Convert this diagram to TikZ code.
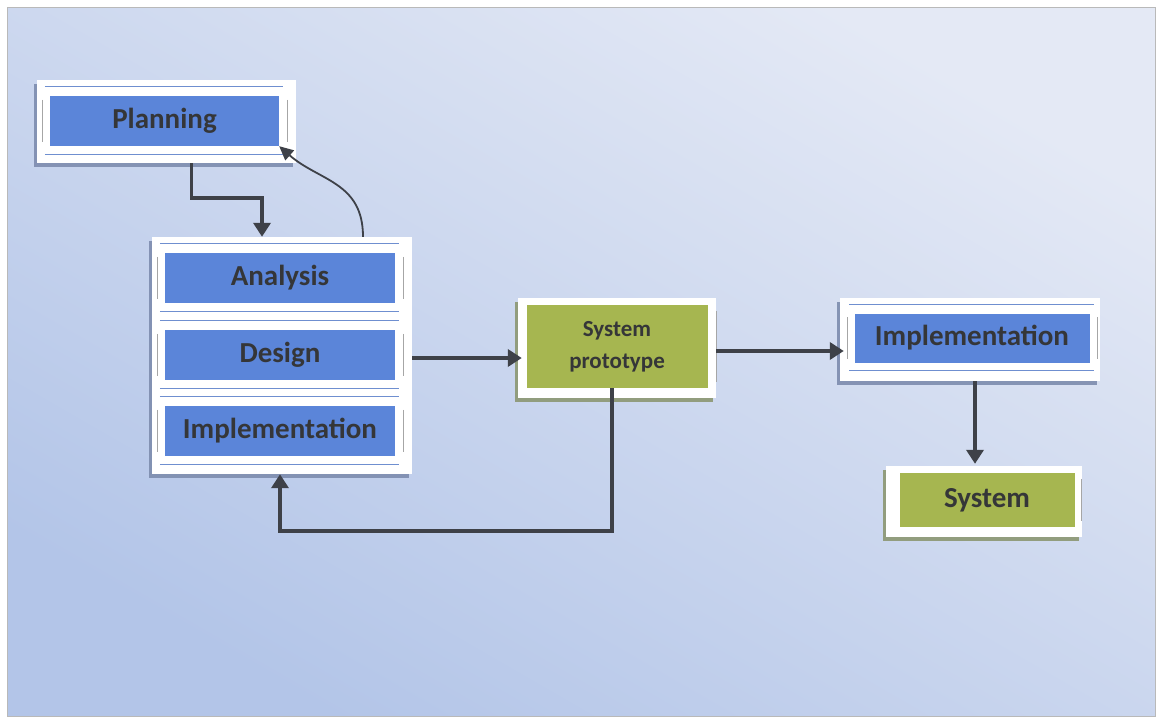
\documentclass[tikz,border=0pt]{standalone}
\usepackage{fontspec}
\setmainfont{Carlito}
\usetikzlibrary{arrows.meta,fit,shadows,calc}
\definecolor{bgtop}{HTML}{E4E9F5}
\definecolor{bgbot}{HTML}{B3C5E8}
\definecolor{boxblue}{HTML}{5B85D9}
\definecolor{boxgreen}{HTML}{A6B650}
\definecolor{txt}{HTML}{353638}
\definecolor{arr}{HTML}{3E4148}
\definecolor{decoc}{HTML}{6F8FD0}
\definecolor{shadowb}{HTML}{7D8CAE}
\definecolor{shadowg}{HTML}{8C9772}
\newcommand\decobox[1]{%
  \draw[decoh] ([xshift=-5pt,yshift=9pt]#1.north west) -- ([xshift=4pt,yshift=9pt]#1.north east);
  \draw[decoh] ([xshift=-5pt,yshift=-8pt]#1.south west) -- ([xshift=4pt,yshift=-8pt]#1.south east);
  \draw[decov] ([xshift=-7pt,yshift=-4pt]#1.north west) -- ([xshift=-7pt,yshift=4pt]#1.south west);
  \draw[decov] ([xshift=8pt,yshift=-4pt]#1.north east) -- ([xshift=8pt,yshift=4pt]#1.south east);}
\begin{document}
\begin{tikzpicture}[x=1pt,y=-1pt,
  frameb/.style={fill=white, draw=none, inner sep=0pt,
    drop shadow={shadow xshift=-3pt, shadow yshift=-4pt, fill=shadowb, opacity=0.9}},
  frameg/.style={fill=white, draw=none, inner sep=0pt,
    drop shadow={shadow xshift=-3pt, shadow yshift=-4pt, fill=shadowg, opacity=0.9}},
  bluebox/.style={fill=boxblue, draw=none, text=txt, font=\fontsize{29}{30}\selectfont\bfseries, inner sep=0pt},
  greenbox/.style={fill=boxgreen, draw=none, text=txt, inner sep=0pt, align=center},
  decoh/.style={draw=decoc, line width=0.9pt},
  decov/.style={draw=gray!70, line width=0.8pt},
  arrow/.style={draw=arr, line width=3.6pt, -{Triangle[length=14pt,width=17pt]}},
  thinarrow/.style={draw=arr, line width=1.8pt, -{Triangle[length=14pt,width=13pt]}}]
\useasboundingbox (0,0) rectangle (1159,720);
\fill[white] (0,0) rectangle (1159,720);
\shade[top color=bgtop, bottom color=bgbot, shading angle=-30] (7,7) rectangle (1155,716);
\draw[gray!55, line width=1pt] (7,7) rectangle (1155,716);

% frames
\node[frameb, fit={(37,80) (296,163)}] (planF) {};
\node[frameb, fit={(152,237) (412,474)}] (stackF) {};
\node[frameg, fit={(518,298) (716,398)}] (protoF) {};
\node[frameb, fit={(840,298) (1100,381)}] (imp2F) {};
\node[frameg, fit={(886,466) (1082,537)}] (sysF) {};

% inner boxes
\node[bluebox, minimum width=229pt, minimum height=50pt] (plan) at (164.5,121) {Planning};
\node[bluebox, minimum width=230pt, minimum height=50pt] (ana) at (280,278) {Analysis};
\node[bluebox, minimum width=230pt, minimum height=50pt] (des) at (280,355) {Design};
\node[bluebox, minimum width=230pt, minimum height=50pt] (imp1) at (280,431) {Implementation};
\node[greenbox, minimum width=181pt, minimum height=83pt, font=\fontsize{23}{32}\selectfont\bfseries] (proto) at (617,346.5) {System\\prototype};
\node[bluebox, minimum width=235pt, minimum height=49pt] (imp2) at (972,338) {Implementation};
\node[greenbox, minimum width=175pt, minimum height=54pt, font=\fontsize{29}{30}\selectfont\bfseries] (sys) at (987,500) {System};

\decobox{plan}
\decobox{ana}
\decobox{des}
\decobox{imp1}
\decobox{imp2}
\draw[decov] ([xshift=9pt,yshift=-6pt]proto.north east) -- ([xshift=9pt,yshift=6pt]proto.south east);
\draw[decov] ([xshift=7pt,yshift=-6pt]sys.north east) -- ([xshift=7pt,yshift=6pt]sys.south east);

% connectors
\draw[arrow] ([xshift=25pt]planF.south) -- ++(0,35) -| ([xshift=-20pt]stackF.north);
\draw[thinarrow] ([xshift=81pt]stackF.north) .. controls +(0,-55) and +(40,35) .. (plan.south east);
\draw[arrow] ([yshift=-3pt]stackF.east |- des) -- ([xshift=4pt,yshift=-3pt]protoF.west |- des);
\draw[arrow] ([yshift=-3pt]protoF.east) -- ([xshift=4pt,yshift=-3pt]imp2F.west |- protoF.east);
\coordinate (loop) at (280,531);
\draw[arrow] ([xshift=-5pt]proto.south) |- (loop) -- (stackF.south -| loop);
\draw[arrow] ([xshift=5pt]imp2F.south) -- ([xshift=5pt,yshift=2pt]imp2F.south |- sysF.north);
\end{tikzpicture}
\end{document}
